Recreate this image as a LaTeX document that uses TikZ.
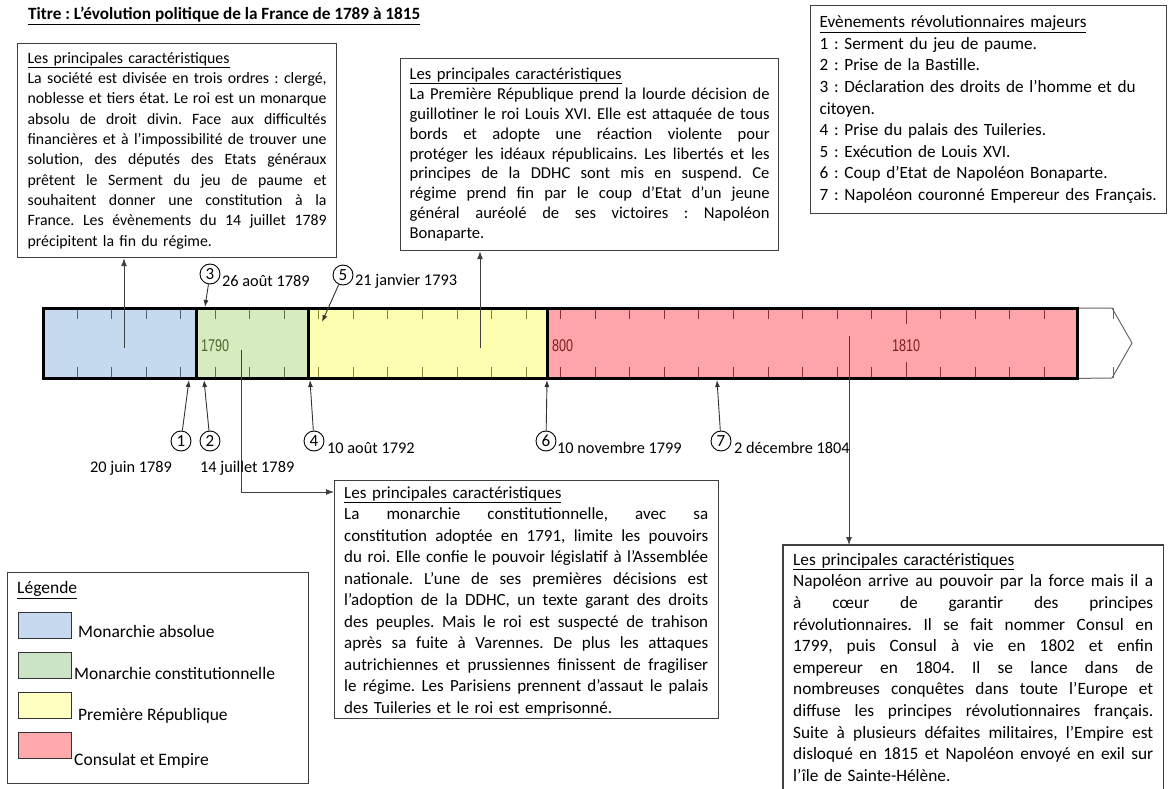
\documentclass[tikz,border=0pt]{standalone}
\usepackage{fontspec}
\setmainfont{Carlito}
\newfontfamily\tickfont[FakeStretch=0.74]{Liberation Sans}
\usetikzlibrary{arrows.meta}
\frenchspacing
\definecolor{cblue}{HTML}{C6DAEF}
\definecolor{cgreen}{HTML}{D7EBC0}
\definecolor{cyellow}{HTML}{FEFEB0}
\definecolor{cred}{HTML}{FEA5AA}
\definecolor{lblue}{HTML}{C6D9EE}
\definecolor{lgreen}{HTML}{CDE3C5}
\definecolor{lyellow}{HTML}{FEFFC0}
\definecolor{lred}{HTML}{FEA9AB}
\definecolor{tblue}{HTML}{4D6079}
\definecolor{tgreen}{HTML}{5E7040}
\definecolor{tyellow}{HTML}{85853E}
\definecolor{tred}{HTML}{8C2C38}
\definecolor{lblgreen}{HTML}{4F6228}
\definecolor{lblred}{HTML}{7F1F1F}
\newcommand\jw{300pt}
\newcommand\jl[1]{\leavevmode\hbox to \jw{\spaceskip=0.226em plus 1fil minus 0.06em\relax #1}}
\newcommand\hd{\underline{Les principales caractéristiques}}
\tikzset{
  infobox/.style={draw=black!75, line width=1.2pt, anchor=north west, align=left, inner xsep=10pt, inner ysep=0pt},
  frame/.style={draw=black!75, line width=1.2pt, anchor=north west, inner sep=0pt},
  seg/.style={anchor=north west, inner sep=0pt, minimum height=70pt},
  segborder/.style={draw=black, line width=3pt},
  tick/.style={line width=1pt},
  evnum/.style={circle, draw=black, line width=0.9pt, inner sep=0pt, minimum size=20pt, font=\fontsize{17}{17}\selectfont},
  evline/.style={draw=black!80, line width=0.9pt, -{Latex[length=7pt,width=5pt]}},
  datelbl/.style={anchor=west, inner sep=0pt, font=\fontsize{16.3}{18}\selectfont},
  conn/.style={draw=black!75, line width=1pt, -{Latex[length=8pt,width=6pt]}},
  swatch/.style={draw=black!80, line width=1pt, anchor=north west, minimum width=53pt, minimum height=26pt, inner sep=0pt},
  leglbl/.style={anchor=west, inner sep=0pt, font=\fontsize{17.5}{20}\selectfont},
  yearlbl/.style={anchor=center, inner sep=0pt, font=\tickfont\fontsize{17}{17}\selectfont}
}
\begin{document}
\begin{tikzpicture}[x=1pt,y=-1pt]
\useasboundingbox (0,0) rectangle (1172,789);
\fill[white] (0,0) rectangle (1172,789);

% title
\node[anchor=west, inner sep=0pt, font=\bfseries\fontsize{17.2}{18}\selectfont] (title) at (28,16)
  {\underline{Titre : L’évolution politique de la France de 1789 à 1815}};

% info boxes
\node[infobox, text width=299pt, minimum height=214pt, font=\fontsize{15.8}{20.3}\selectfont\renewcommand\jw{299pt}] (box1) at (17,43) {\hd\\
\jl{La société est divisée en trois ordres : clergé,}\\
\jl{noblesse et tiers état. Le roi est un monarque}\\
\jl{absolu de droit divin. Face aux difficultés}\\
\jl{financières et à l’impossibilité de trouver une}\\
\jl{solution, des députés des Etats généraux}\\
\jl{prêtent le Serment du jeu de paume et}\\
\jl{souhaitent donner une constitution à la}\\
\jl{France. Les évènements du 14 juillet 1789}\\
précipitent la fin du régime.};

\node[infobox, inner xsep=9pt, text width=360pt, minimum height=192pt, font=\fontsize{16.6}{19.9}\selectfont\renewcommand\jw{360pt}] (box2) at (400,58) {\hd\\
\jl{La Première République prend la lourde décision de}\\
\jl{guillotiner le roi Louis XVI. Elle est attaquée de tous}\\
\jl{bords et adopte une réaction violente pour}\\
\jl{protéger les idéaux républicains. Les libertés et les}\\
\jl{principes de la DDHC sont mis en suspend. Ce}\\
\jl{régime prend fin par le coup d’Etat d’un jeune}\\
\jl{général auréolé de ses victoires : Napoléon}\\
Bonaparte.};

\node[infobox, inner xsep=9pt, text width=338pt, minimum height=208pt, font=\fontsize{17.2}{21.6}\selectfont] (events) at (810,5) {\underline{Evènements révolutionnaires majeurs}\\
1 : Serment du jeu de paume.\\
2 : Prise de la Bastille.\\
3 : Déclaration des droits de l’homme et du\\
citoyen.\\
4 : Prise du palais des Tuileries.\\
5 : Exécution de Louis XVI.\\
6 : Coup d’Etat de Napoléon Bonaparte.\\
7 : Napoléon couronné Empereur des Français.};

\node[frame, minimum width=384pt, minimum height=238pt] (box4) at (334,480) {};
\node[anchor=north west, align=left, inner xsep=10pt, inner ysep=0pt, text width=364pt, font=\fontsize{17}{21.5}\selectfont\renewcommand\jw{364pt}] (box4t) at (334,486) {\hd\\
\jl{La monarchie constitutionnelle, avec sa}\\
\jl{constitution adoptée en 1791, limite les pouvoirs}\\
\jl{du roi. Elle confie le pouvoir législatif à l’Assemblée}\\
\jl{nationale. L’une de ses premières décisions est}\\
\jl{l’adoption de la DDHC, un texte garant des droits}\\
\jl{des peuples. Mais le roi est suspecté de trahison}\\
\jl{après sa fuite à Varennes. De plus les attaques}\\
\jl{autrichiennes et prussiennes finissent de fragiliser}\\
\jl{le régime. Les Parisiens prennent d’assaut le palais}\\
des Tuileries et le roi est emprisonné.};

\node[anchor=north west, align=left, inner xsep=10pt, inner ysep=8pt, text width=360pt, font=\fontsize{17.3}{21.6}\selectfont\renewcommand\jw{360pt}] (box5) at (783,545) {\hd\\
\jl{Napoléon arrive au pouvoir par la force mais il a}\\
\jl{à cœur de garantir des principes}\\
\jl{révolutionnaires. Il se fait nommer Consul en}\\
\jl{1799, puis Consul à vie en 1802 et enfin}\\
\jl{empereur en 1804. Il se lance dans de}\\
\jl{nombreuses conquêtes dans toute l’Europe et}\\
\jl{diffuse les principes révolutionnaires français.}\\
\jl{Suite à plusieurs défaites militaires, l’Empire est}\\
\jl{disloqué en 1815 et Napoléon envoyé en exil sur}\\
l’île de Sainte-Hélène.};
\draw[draw=black!75, line width=1.2pt] (box5.north west |- 0,789) -- (box5.north west) -- (box5.north east) -- (box5.north east |- 0,789);

% timeline segments
\node[seg, fill=cblue, minimum width=153pt] (sa) at (43,308) {};
\node[seg, fill=cgreen, minimum width=112pt] (sb) at (196,308) {};
\node[seg, fill=cyellow, minimum width=239pt] (sc) at (308,308) {};
\node[seg, fill=cred, minimum width=530pt] (sd) at (547,308) {};
\draw[black!60, line width=1pt] (sd.north east) -- (1112,308) -- (1132,343) -- (1112,378) -- (sd.south east);

% ticks
\foreach \k in {0,...,3} {\draw[tick, tblue] (77+34.55*\k,308) -- ++(0,11) (77+34.55*\k,378) -- ++(0,-11);}
\foreach \k in {4,...,6} {\draw[tick, tgreen] (77+34.55*\k,308) -- ++(0,11) (77+34.55*\k,378) -- ++(0,-11);}
\foreach \k in {7,...,13} {\draw[tick, tyellow] (77+34.55*\k,308) -- ++(0,11) (77+34.55*\k,378) -- ++(0,-11);}
\foreach \k in {14,...,28} {\draw[tick, tred] (77+34.55*\k,308) -- ++(0,11) (77+34.55*\k,378) -- ++(0,-11);}
\foreach \k in {24} {\draw[tick, tred] (77+34.55*\k,308) -- ++(0,16) (77+34.55*\k,378) -- ++(0,-16);}
\draw[tick, black!60] (77+34.55*30,308) -- ++(0,11) (77+34.55*30,378) -- ++(0,-11);

% year labels
\node[yearlbl, text=lblgreen, anchor=west] (y1790) at (201,346) {1790};
\node[yearlbl, text=lblred, anchor=west] (y1800) at (552,346) {800};
\node[yearlbl, text=lblred] (y1810) at (906,346) {1810};

% segment borders
\foreach \s in {sa,sb,sc,sd} {\draw[segborder] (\s.north west) rectangle (\s.south east);}

% connectors to info boxes
\coordinate (s1) at (124,348);
\coordinate (s2) at (480,348);
\coordinate (s4) at (241,350);
\coordinate (k4) at (241,492);
\coordinate (s5) at (849,336);
\draw[conn] (s1) -- (s1 |- box1.south);
\draw[conn] (s2) -- (s2 |- box2.south);
\draw[conn] (s4) -- (k4) -- (k4 -| box4.west);
\draw[conn] (s5) -- (s5 |- box5.north);

% events
\node[evnum] (e1) at (181,441) {1};
\node[evnum] (e2) at (210,441) {2};
\node[evnum] (e3) at (210,274) {3};
\node[evnum] (e4) at (314,441) {4};
\node[evnum] (e5) at (343,275) {5};
\node[evnum] (e6) at (546,441) {6};
\node[evnum] (e7) at (721,441) {7};
\coordinate (p1) at (189,380);
\coordinate (p2) at (204,380);
\coordinate (p3) at (205,307);
\coordinate (p4) at (310,380);
\coordinate (p5) at (322,322);
\coordinate (p6) at (547,380);
\coordinate (p7) at (717,380);
\foreach \i in {1,...,7} {\draw[evline] (e\i) -- (p\i);}

\node[datelbl] (d1) at (90,468) {20 juin 1789};
\node[datelbl] (d2) at (200,468) {14 juillet 1789};
\node[datelbl] (d3) at (222,281) {26 août 1789};
\node[datelbl] (d4) at (327,448) {10 août 1792};
\node[datelbl] (d5) at (355,281) {21 janvier 1793};
\node[datelbl] (d6) at (557,448) {10 novembre 1799};
\node[datelbl] (d7) at (734,448) {2 décembre 1804};

% legend
\node[frame, minimum width=301pt, minimum height=211pt] (leg) at (7,572) {};
\node[leglbl] (legt) at (17,590) {\underline{Légende}};
\node[swatch, fill=lblue] (sw1) at (18,612) {};
\node[swatch, fill=lgreen] (sw2) at (18,652) {};
\node[swatch, fill=lyellow] (sw3) at (18,692) {};
\node[swatch, fill=lred] (sw4) at (18,732) {};
\node[leglbl] (lab1) at (78,631) {Monarchie absolue};
\node[leglbl] (lab2) at (74,673) {Monarchie constitutionnelle};
\node[leglbl] (lab3) at (78,716) {Première République};
\node[leglbl] (lab4) at (74,761) {Consulat et Empire};
\end{tikzpicture}
\end{document}
